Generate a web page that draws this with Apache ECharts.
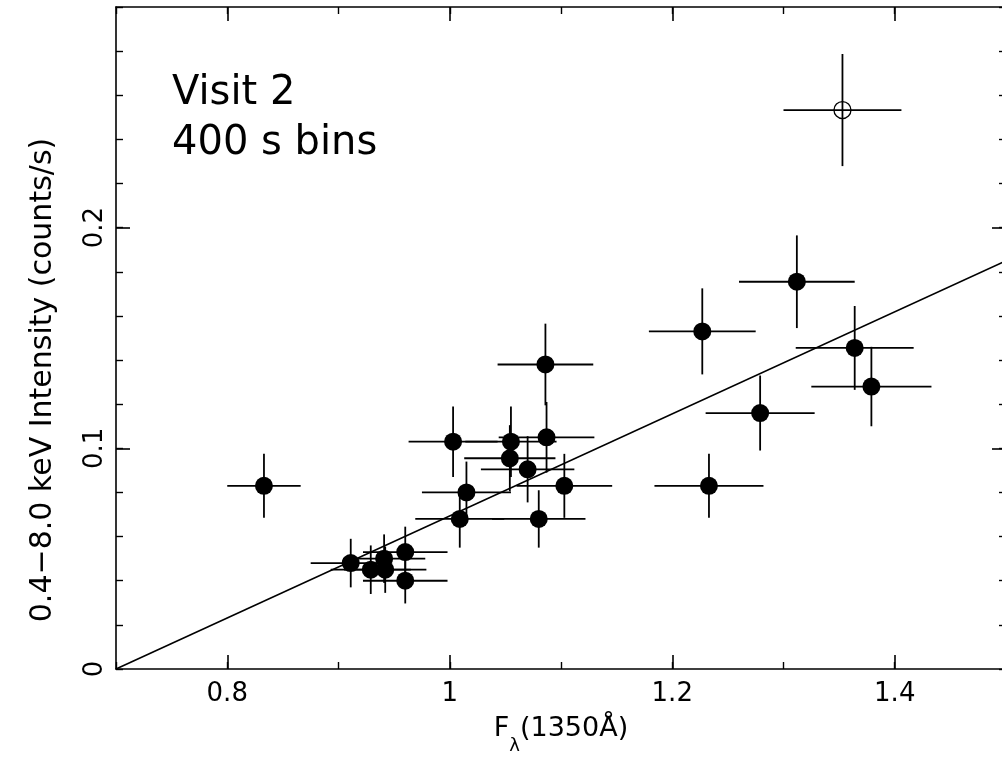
<!DOCTYPE html>
<html>
<head>
<meta charset="utf-8">
<script src="https://cdn.jsdelivr.net/npm/echarts@6/dist/echarts.min.js"></script>
<style>
html,body{margin:0;padding:0;background:#fff;}
#chart{width:1002px;height:759px;}
</style>
</head>
<body>
<div id="chart"></div>
<script>
// ---- data ----
var fluxX = [0.833, 0.911, 0.929, 0.941, 0.942, 0.960, 0.960, 1.003, 1.009, 1.015, 1.054, 1.055, 1.070, 1.087, 1.086, 1.080, 1.103, 1.227, 1.233, 1.279, 1.312, 1.364, 1.379];
var fluxErr = [0.033, 0.036, 0.036, 0.037, 0.037, 0.038, 0.038, 0.040, 0.040, 0.040, 0.041, 0.041, 0.042, 0.043, 0.043, 0.042, 0.043, 0.048, 0.049, 0.049, 0.052, 0.053, 0.054];
var intensity = [0.083, 0.048, 0.045, 0.050, 0.045, 0.053, 0.040, 0.103, 0.068, 0.080, 0.0955, 0.103, 0.0905, 0.105, 0.138, 0.068, 0.083, 0.153, 0.083, 0.116, 0.1755, 0.1455, 0.128];
var intensityErr = [0.0145, 0.011, 0.011, 0.011, 0.0105, 0.0115, 0.0103, 0.016, 0.013, 0.014, 0.015, 0.016, 0.015, 0.016, 0.0185, 0.013, 0.0145, 0.0195, 0.0145, 0.017, 0.021, 0.019, 0.018];
var openX = [1.353];
var openXErr = [0.053];
var openY = [0.2533];
var openYErr = [0.0254];
var fitLineX = [0.7, 1.5];
var fitLineY = [0, 0.185];
var xMajorTicks = [0.8, 1.0, 1.2, 1.4];
var yMajorTicks = [0.1, 0.2];
var yLabelTicks = [0, 0.1, 0.2];
var labelVisit = 'Visit 2';
var labelBins = '400 s bins';
var xTitle = ['F', 'λ', '(1350Å)'];
var yTitle = '0.4−8.0 keV Intensity (counts/s)';

var FONT = 'DejaVu Sans';
var chart = echarts.init(document.getElementById('chart'), null, {renderer:'canvas'});

function zip4(a,b,c,d){ var r=[]; for(var i=0;i<a.length;i++) r.push([a[i],b[i],c[i],d[i]]); return r; }
var mainData = zip4(fluxX, intensity, fluxErr, intensityErr);
var openData = zip4(openX, openY, openXErr, openYErr);
var fitData = fitLineX.map(function(x,i){return [x, fitLineY[i]];});

function errRender(params, api){
  var x = api.value(0), y = api.value(1), xe = api.value(2), ye = api.value(3);
  var l = api.coord([x - xe, y]), r = api.coord([x + xe, y]);
  var t = api.coord([x, y + ye]), b = api.coord([x, y - ye]);
  var st = {stroke:'#000', lineWidth:1.8};
  return {type:'group', children:[
    {type:'line', shape:{x1:l[0], y1:l[1], x2:r[0], y2:r[1]}, style:st},
    {type:'line', shape:{x1:t[0], y1:t[1], x2:b[0], y2:b[1]}, style:st}
  ]};
}

var axisLineStyle = {show:true, onZero:false, lineStyle:{color:'#000', width:1.6}};
var hiddenLine = {show:false, onZero:false};
var majorTick = function(vals){ return {show:true, inside:true, length:14, customValues:vals, lineStyle:{color:'#000', width:1.6}}; };
var minorTickStyle = {show:true, inside:true, length:7, lineStyle:{color:'#000', width:1.4}};
var gridRect = {left:116, top:7, width:890, height:662, containLabel:false, outerBoundsMode:'none'};

var option = {
  animation:false,
  backgroundColor:'#fff',
  grid:[
    Object.assign({}, gridRect),
    Object.assign({}, gridRect)
  ],
  xAxis:[
    {gridIndex:0, type:'value', position:'bottom', min:0.7, max:1.5,
     axisLine:axisLineStyle, axisTick:majorTick(xMajorTicks), splitLine:{show:false},
     axisLabel:{show:true, customValues:xMajorTicks, color:'#000', fontFamily:FONT, fontSize:26, margin:12},
     name:'{a|' + xTitle[0] + '}{s|' + xTitle[1] + '}{a|' + xTitle[2] + '}',
     nameLocation:'middle', nameGap:46,
     nameTextStyle:{color:'#000', fontFamily:FONT, rich:{
       a:{fontFamily:FONT, fontSize:27, color:'#000', lineHeight:40, verticalAlign:'top'},
       s:{fontFamily:FONT, fontSize:18, color:'#000', lineHeight:16, verticalAlign:'bottom'}
     }}},
    {gridIndex:0, type:'value', position:'top', min:0.7, max:1.5,
     axisLine:axisLineStyle, axisTick:majorTick(xMajorTicks), splitLine:{show:false}, axisLabel:{show:false}},
    {gridIndex:1, type:'value', position:'bottom', min:0.7, max:1.5, interval:0.1,
     axisLine:hiddenLine, axisTick:minorTickStyle, splitLine:{show:false}, axisLabel:{show:false}},
    {gridIndex:1, type:'value', position:'top', min:0.7, max:1.5, interval:0.1,
     axisLine:hiddenLine, axisTick:minorTickStyle, splitLine:{show:false}, axisLabel:{show:false}}
  ],
  yAxis:[
    {gridIndex:0, type:'value', position:'left', min:0, max:0.3,
     axisLine:axisLineStyle, axisTick:majorTick(yMajorTicks), splitLine:{show:false},
     axisLabel:{show:true, customValues:yLabelTicks, rotate:90, color:'#000', fontFamily:FONT, fontSize:26, margin:8}},
    {gridIndex:0, type:'value', position:'right', min:0, max:0.3,
     axisLine:axisLineStyle, axisTick:majorTick(yMajorTicks), splitLine:{show:false}, axisLabel:{show:false}},
    {gridIndex:1, type:'value', position:'left', min:0, max:0.3, interval:0.02,
     axisLine:hiddenLine, axisTick:minorTickStyle, splitLine:{show:false}, axisLabel:{show:false}},
    {gridIndex:1, type:'value', position:'right', min:0, max:0.3, interval:0.02,
     axisLine:hiddenLine, axisTick:minorTickStyle, splitLine:{show:false}, axisLabel:{show:false}}
  ],
  graphic:[
    {type:'text', x:172, y:94, style:{text:labelVisit, fontFamily:FONT, fontSize:40, fill:'#000', textAlign:'left', textVerticalAlign:'middle'}},
    {type:'text', x:172, y:144, style:{text:labelBins, fontFamily:FONT, fontSize:40, fill:'#000', textAlign:'left', textVerticalAlign:'middle'}},
    {type:'text', x:43, y:380, rotation:Math.PI/2, style:{text:yTitle, fontFamily:FONT, fontSize:30, fill:'#000', textAlign:'center', textVerticalAlign:'middle'}}
  ],
  series:[
    {type:'line', xAxisIndex:0, yAxisIndex:0, data:fitData, symbol:'none', lineStyle:{color:'#000', width:1.6}, z:2, silent:true},
    {type:'custom', xAxisIndex:0, yAxisIndex:0, data:mainData, renderItem:errRender, encode:{x:0, y:1}, z:3, silent:true},
    {type:'custom', xAxisIndex:0, yAxisIndex:0, data:openData, renderItem:errRender, encode:{x:0, y:1}, z:3, silent:true},
    {type:'scatter', xAxisIndex:0, yAxisIndex:0, data:mainData, symbol:'circle', symbolSize:18, itemStyle:{color:'#000', opacity:1}, z:4, silent:true},
    {type:'scatter', xAxisIndex:0, yAxisIndex:0, data:openData, symbol:'circle', symbolSize:17, itemStyle:{color:'rgba(0,0,0,0)', borderColor:'#000', borderWidth:1.3, opacity:1}, z:4, silent:true}
  ]
};
chart.setOption(option);
</script>
</body>
</html>
